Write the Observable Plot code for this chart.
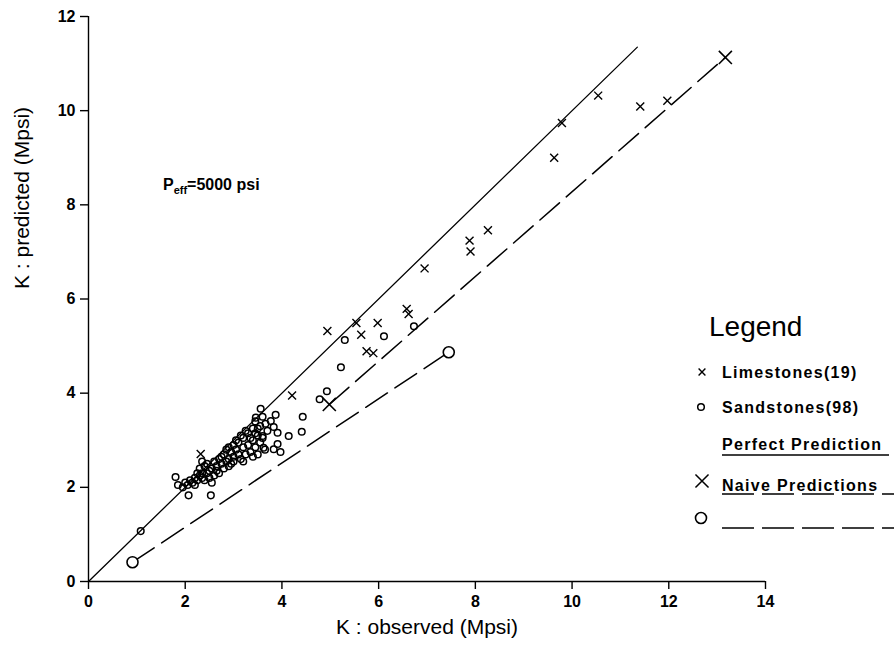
<!DOCTYPE html>
<html><head><meta charset="utf-8">
<script src="https://cdn.jsdelivr.net/npm/d3@7"></script>
<script src="https://cdn.jsdelivr.net/npm/@observablehq/plot@0.6"></script>
<style>
body{margin:0;background:#fff;}
#wrap{position:relative;width:894px;height:649px;font-family:"Liberation Sans",Arial,sans-serif;}
#legend{position:absolute;left:0;top:0;pointer-events:none;}
</style></head><body><div id="wrap"></div>
<script>
const xTicks = [0, 2, 4, 6, 8, 10, 12, 14];
const yTicks = [0, 2, 4, 6, 8, 10, 12];
const xLabel = "K : observed (Mpsi)";
const yLabel = "K : predicted (Mpsi)";

// Limestones (19): [observed, predicted]
const limestones = [
  [2.32, 2.71], [4.21, 3.95], [4.94, 5.32], [5.54, 5.49], [5.64, 5.24],
  [5.98, 5.49], [5.75, 4.89], [5.89, 4.85], [6.58, 5.79], [6.62, 5.68],
  [6.95, 6.65], [7.88, 7.24], [7.90, 7.01], [8.26, 7.46], [9.63, 9.00],
  [9.79, 9.74], [10.54, 10.32], [11.41, 10.09], [11.97, 10.21]
];

// Sandstones (98): [observed, predicted]
const sandstones = [
  [1.08, 1.07], [1.80, 2.22], [2.07, 1.83], [2.53, 1.83],
  [1.85, 2.05], [1.95, 2.00], [2.00, 2.10], [2.05, 2.05], [2.10, 2.15], [2.15, 2.10], [2.20, 2.20], [2.20, 2.05],
  [2.25, 2.15], [2.30, 2.25], [2.30, 2.40], [2.35, 2.20], [2.35, 2.30], [2.40, 2.45], [2.40, 2.15], [2.45, 2.30],
  [2.45, 2.50], [2.50, 2.20], [2.50, 2.35], [2.55, 2.40], [2.55, 2.10], [2.60, 2.25],
  [2.65, 2.45], [2.70, 2.60], [2.70, 2.30], [2.75, 2.50], [2.80, 2.70], [2.80, 2.40], [2.85, 2.55], [2.90, 2.85],
  [2.90, 2.60], [2.95, 2.75], [2.95, 2.50], [3.00, 2.90], [3.00, 2.65], [3.00, 2.55],
  [3.05, 2.80], [3.10, 2.70], [3.10, 2.95], [3.15, 2.60], [3.20, 2.85], [3.20, 3.05], [3.25, 2.70], [3.30, 2.90],
  [3.30, 3.15], [3.35, 2.75], [3.40, 3.00], [3.40, 3.25], [3.40, 2.65],
  [3.45, 3.40], [3.45, 2.85], [3.50, 3.10], [3.50, 2.70], [3.55, 3.30], [3.55, 2.95], [3.60, 3.05], [3.60, 3.50],
  [3.65, 2.80], [3.70, 3.20],
  [3.56, 3.67], [3.87, 3.54], [3.77, 3.41], [3.83, 3.28], [3.91, 3.16], [3.66, 3.35], [3.91, 2.92], [3.83, 2.81],
  [3.97, 2.75], [3.60, 3.09], [3.62, 2.84], [3.46, 3.48],
  [2.25, 2.30], [2.60, 2.55], [2.65, 2.35], [2.75, 2.65], [2.85, 2.80], [3.05, 3.00], [3.15, 3.10], [3.25, 3.20],
  [3.35, 3.05], [3.45, 3.15], [2.35, 2.55], [2.90, 2.45], [3.20, 2.55], [3.50, 3.25],
  [4.14, 3.09], [4.41, 3.18], [4.43, 3.50], [4.78, 3.87], [4.93, 4.04], [5.22, 4.55], [5.30, 5.13], [6.11, 5.21],
  [6.73, 5.42]
];

const perfectLine = [[0, 0], [11.35, 11.35]];
const naiveLime = [[4.98, 3.76], [13.17, 11.13]];
const naiveSand = [[0.91, 0.41], [7.45, 4.87]];
const annotation = {x: 1.55, y: 8.38, main: "P", sub: "eff", rest: "=5000 psi"};

const legendItems = ["Limestones(19)", "Sandstones(98)", "Perfect Prediction", "Naive Predictions"];

const X = d => d[0], Y = d => d[1];
const ff = "'Liberation Sans', Arial, sans-serif";

const plot = Plot.plot({
  width: 894, height: 649,
  marginLeft: 88, marginRight: 129, marginTop: 16, marginBottom: 68,
  style: {fontFamily: ff, fontSize: "16px", color: "black", background: "white"},
  x: {domain: [0, 14]},
  y: {domain: [0, 12]},
  marks: [
    Plot.ruleX([0], {y1: 0, y2: 12, stroke: "black", strokeWidth: 1.4}),
    Plot.ruleY([0], {x1: 0, x2: 14, stroke: "black", strokeWidth: 1.4}),
    Plot.axisX({ticks: xTicks, tickSize: 8, tickPadding: 6, label: null, fontWeight: "bold", fontSize: 16, strokeWidth: 1.4}),
    Plot.axisY({ticks: yTicks, tickSize: 8, tickPadding: 5, label: null, fontWeight: "bold", fontSize: 16, strokeWidth: 1.4}),
    Plot.text([xLabel], {frameAnchor: "bottom", dy: 52, fontSize: 21, fill: "black"}),
    Plot.text([yLabel], {frameAnchor: "left", rotate: -90, dx: -66, dy: -10, fontSize: 21, fill: "black"}),
    Plot.line(perfectLine, {x: X, y: Y, stroke: "black", strokeWidth: 1.3}),
    Plot.line(naiveLime, {x: X, y: Y, stroke: "black", strokeWidth: 1.5, strokeDasharray: "26,9"}),
    Plot.line(naiveSand, {x: X, y: Y, stroke: "black", strokeWidth: 1.5, strokeDasharray: "26,9"}),
    Plot.dot(sandstones, {x: X, y: Y, symbol: "circle", r: 3.3, stroke: "black", strokeWidth: 1.5, fill: "none"}),
    Plot.dot(limestones, {x: X, y: Y, symbol: "times", r: 3.7, stroke: "black", strokeWidth: 1.4}),
    Plot.dot([naiveLime[0], naiveLime[1]], {x: X, y: Y, symbol: "times", r: 6, stroke: "black", strokeWidth: 1.6}),
    Plot.dot([naiveSand[0], naiveSand[1]], {x: X, y: Y, symbol: "circle", r: 5.5, stroke: "black", strokeWidth: 1.6, fill: "white"})
  ]
});

document.getElementById("wrap").appendChild(plot);

const svg = d3.select(plot);
// bold, larger numeric tick labels
svg.selectAll("text").filter(function() { return /^\d+$/.test(this.textContent.trim()); })
  .each(function() {
    this.setAttribute("font-weight", "bold");
    this.setAttribute("font-size", "16");
    this.style.fontWeight = "bold";
    this.style.fontSize = "16px";
    if (this.parentNode) { this.parentNode.setAttribute("font-weight", "bold"); this.parentNode.setAttribute("font-size", "16"); }
  });

// annotation using the plot's scales
const sx = plot.scale("x"), sy = plot.scale("y");
const t = svg.append("text")
  .attr("x", sx.apply(annotation.x)).attr("y", sy.apply(annotation.y))
  .attr("text-anchor", "start")
  .attr("font-family", ff)
  .attr("font-weight", "bold").attr("font-size", 16).attr("dominant-baseline", "middle");
t.append("tspan").text(annotation.main);
t.append("tspan").attr("font-size", 11).attr("dy", 5).text(annotation.sub);
t.append("tspan").attr("dy", -5).text(annotation.rest);

// legend overlay
const lg = d3.select("#wrap").append("svg").attr("id", "legend").attr("width", 894).attr("height", 649);
lg.append("text").attr("x", 709).attr("y", 336).attr("font-family", ff).attr("font-size", 28).text("Legend");
const rows = [372, 407, 444, 485];
legendItems.forEach((s, i) => {
  lg.append("text").attr("x", 722).attr("y", rows[i] + 6).attr("font-family", ff)
    .attr("font-weight", "bold").attr("font-size", 16).attr("letter-spacing", "1.3px").text(s);
});
const sym = (type, size, x, y, sw, fill) => lg.append("path")
  .attr("d", d3.symbol(type, size)()).attr("transform", `translate(${x},${y})`)
  .attr("stroke", "black").attr("stroke-width", sw).attr("fill", fill);
sym(d3.symbolTimes, Math.PI * 3.2 * 3.2, 702, 372, 1.4, "none");
sym(d3.symbolCircle, Math.PI * 3.3 * 3.3, 701, 407, 1.5, "none");
sym(d3.symbolTimes, Math.PI * 6 * 6, 702, 481, 1.5, "none");
sym(d3.symbolCircle, Math.PI * 5.5 * 5.5, 701, 518, 1.6, "none");
lg.append("line").attr("x1", 722).attr("x2", 889).attr("y1", 455).attr("y2", 455).attr("stroke", "black").attr("stroke-width", 1.6);
lg.append("line").attr("x1", 722).attr("x2", 894).attr("y1", 494).attr("y2", 494).attr("stroke", "black").attr("stroke-width", 1.6).attr("stroke-dasharray", "32,8");
lg.append("line").attr("x1", 722).attr("x2", 894).attr("y1", 528).attr("y2", 528).attr("stroke", "black").attr("stroke-width", 1.6).attr("stroke-dasharray", "32,8");
</script></body></html>
